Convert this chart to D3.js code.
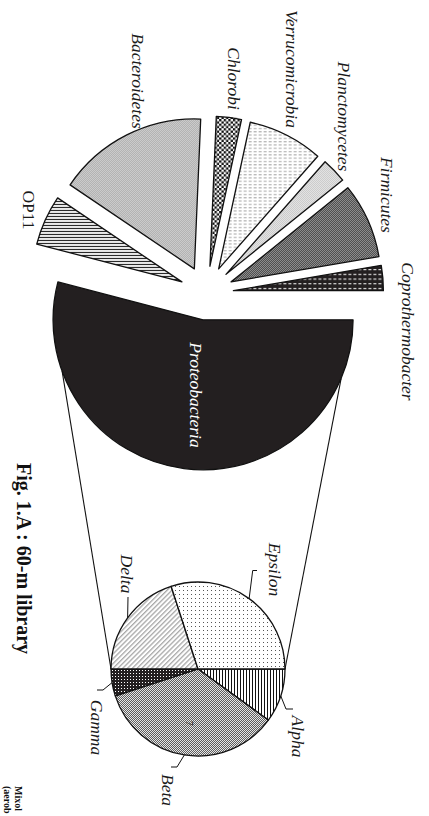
<!DOCTYPE html>
<html><head><meta charset="utf-8">
<script src="https://cdn.jsdelivr.net/npm/d3@7"></script>
<style>body{margin:0;background:#fff;overflow:hidden}svg{display:block}</style>
</head><body>
<svg id="chart" width="429" height="816"></svg>
<script>
// Clone counts per phylum, 60-m library (main pie)
const phyla = ["Proteobacteria","OP11","Bacteroidetes","Chlorobi","Verrucomicrobia","Planctomycetes","Firmicutes","Coprothermobacter"];
const phylaCounts = [20, 2, 6, 1, 3, 1, 3, 1];
// Proteobacteria split into classes (secondary pie)
const classes = ["Alpha","Beta","Gamma","Delta","Epsilon"];
const classCounts = [2, 7, 1, 4, 6];
const captionText = "Fig. 1.A : 60-m library";
const nextPanelTitle = ["Mixol", "(aerob"];

const svg = d3.select("#chart");
const defs = svg.append("defs");

// ---- fill patterns ----
function pattern(id, w, h, bg, draw, tf) {
  const p = defs.append("pattern").attr("id", id).attr("patternUnits", "userSpaceOnUse")
    .attr("width", w).attr("height", h);
  if (tf) p.attr("patternTransform", tf);
  p.append("rect").attr("width", w).attr("height", h).attr("fill", bg);
  draw(p);
}
const px = (p, x, y, w, h, c) => p.append("rect").attr("x", x).attr("y", y).attr("width", w).attr("height", h).attr("fill", c);

pattern("p-proteo", 4, 4, "#231f20", () => {});
pattern("p-op11", 3, 3, "#fff", p => px(p, 0, 0, 3, 1.1, "#111"));
pattern("p-bact", 2, 2, "#f2f2f2", p => { px(p, 0, 0, 1, 1, "#8c8c8c"); px(p, 1, 1, 1, 1, "#8c8c8c"); });
pattern("p-chlor", 4.6, 4.6, "#fff", p => { px(p, 0, 0, 2.3, 2.3, "#111"); px(p, 2.3, 2.3, 2.3, 2.3, "#111"); });
pattern("p-verr", 5, 3.3, "#fff", p => px(p, 0, 1, 3, 1, "#a6a6a6"));
pattern("p-planc", 2, 2, "#f6f6f6", p => { px(p, 0, 0, 1, 1, "#b8b8b8"); px(p, 1, 1, 1, 1, "#b8b8b8"); });
pattern("p-firm", 2, 2, "#a0a0a0", p => { px(p, 0, 0, 1, 1, "#3c3c3c"); px(p, 1, 1, 1, 1, "#3c3c3c"); });
pattern("p-copro", 5, 4.7, "#231f20", p => px(p, 0, 2, 3, 1, "#fff"));

pattern("p-alpha", 3, 3, "#fff", p => px(p, 0, 0, 1, 3, "#111"));
pattern("p-beta", 2, 2, "#e6e6e6", p => { px(p, 0, 0, 1, 1, "#5e5e5e"); px(p, 1, 1, 1, 1, "#5e5e5e"); });
pattern("p-gamma", 3, 3, "#231f20", p => px(p, 1, 1, 1, 1, "#fff"));
pattern("p-delta", 3.4, 3.4, "#fff", p => px(p, 0, 0, 1.3, 3.4, "#a8a8a8"), "rotate(45)");
pattern("p-eps", 4, 4, "#fff", p => px(p, 1, 1, 1, 1, "#555"));

const phylaFill = ["p-proteo","p-op11","p-bact","p-chlor","p-verr","p-planc","p-firm","p-copro"];
const classFill = ["p-alpha","p-beta","p-gamma","p-delta","p-eps"];

// ---- layout ----
const main = { cx: 206.5, cy: 293, r: 150, explode: 27 };
const sub = { cx: 198, cy: 669, r: 87 };
const start = Math.PI / 2;           // first slice begins pointing right
const pie = d3.pie().sort(null).startAngle(start).endAngle(start + 2 * Math.PI);
const deg = Math.PI / 180;
const polar = (cx, cy, r, a) => [cx + r * Math.sin(a), cy - r * Math.cos(a)];

const mainArcs = pie(phylaCounts);
const subArcs = pie(classCounts);
const arcMain = d3.arc().innerRadius(0).outerRadius(main.r);
const arcSub = d3.arc().innerRadius(0).outerRadius(sub.r);

const offset = d => {
  const m = (d.startAngle + d.endAngle) / 2;
  return [main.explode * Math.sin(m), -main.explode * Math.cos(m)];
};

// connector lines from the Proteobacteria slice to the class pie
const pro = mainArcs[0];
const [pox, poy] = offset(pro);
const pcx = main.cx + pox, pcy = main.cy + poy;
const conn = [
  [polar(pcx, pcy, main.r, 113 * deg), [sub.cx + sub.r, sub.cy]],
  [polar(pcx, pcy, main.r, 250 * deg), [sub.cx - sub.r, sub.cy]]
];
svg.append("g").selectAll("line").data(conn).join("line")
  .attr("x1", d => d[0][0]).attr("y1", d => d[0][1])
  .attr("x2", d => d[1][0]).attr("y2", d => d[1][1])
  .attr("stroke", "#111").attr("stroke-width", 1.1);

// main pie, every slice pulled out along its bisector
svg.append("g").selectAll("path").data(mainArcs).join("path")
  .attr("transform", d => { const [dx, dy] = offset(d); return `translate(${main.cx + dx},${main.cy + dy})`; })
  .attr("d", arcMain)
  .attr("fill", (d, i) => `url(#${phylaFill[i]})`)
  .attr("stroke", "#111").attr("stroke-width", 1.3).attr("stroke-linejoin", "round");

// class pie
const gSub = svg.append("g").attr("transform", `translate(${sub.cx},${sub.cy})`);
gSub.selectAll("path").data(subArcs).join("path")
  .attr("d", arcSub)
  .attr("fill", (d, i) => `url(#${classFill[i]})`)
  .attr("stroke", "#111").attr("stroke-width", 1.3).attr("stroke-linejoin", "round");

// ---- labels (text runs top-to-bottom) ----
const serif = "'Liberation Serif','Times New Roman',serif";
function vtext(x, y, str, opts = {}) {
  return svg.append("text")
    .attr("transform", `translate(${x},${y}) rotate(90)`)
    .attr("text-anchor", opts.anchor || "middle")
    .attr("font-family", serif)
    .attr("font-size", opts.size || 17.5)
    .attr("font-style", opts.italic === false ? "normal" : "italic")
    .attr("font-weight", opts.bold ? "bold" : "normal")
    .attr("fill", opts.fill || "#1a1a1a")
    .text(str);
}

// main pie labels: [baseline x, centre y]
const phylaLabelPos = [[190, 395], [23, 210], [132, 81], [228, 78.5], [286, 69], [338, 116.5], [381, 195], [402, 331.5]];
phyla.forEach((name, i) => {
  const [x, y] = phylaLabelPos[i];
  vtext(x, y, name, { italic: name !== "OP11", fill: i === 0 ? "#fff" : "#1a1a1a" });
});

// class labels with leader lines starting at each slice's arc midpoint
const classLabelPos = [[292, 736.5], [162, 790], [91, 727.5], [121, 574], [269, 569.5]];
const leaderBends = [
  [[286, 709], [293, 709]],
  [[177, 767], [171, 767]],
  [[103, 690], [97, 690]],
  [[128, 597], [128, 597]],
  [[252.7, 570.5], [257, 570.5]]
];
const lineGen = d3.line();
subArcs.forEach((d, i) => {
  const m = (d.startAngle + d.endAngle) / 2;
  const p0 = polar(sub.cx, sub.cy, sub.r, m);
  svg.append("path").attr("d", lineGen([p0, ...leaderBends[i]]))
    .attr("fill", "none").attr("stroke", "#111").attr("stroke-width", 1);
  const [x, y] = classLabelPos[i];
  vtext(x, y, classes[i]);
});

// value label inside the Beta slice
const beta = subArcs[1];
const [bx, by] = polar(sub.cx, sub.cy, 55, (beta.startAngle + beta.endAngle) / 2);
vtext(bx - 3, by, String(classCounts[1]), { size: 10, italic: false, fill: "#222" });

// caption
vtext(17, 463, captionText, { size: 20, italic: false, bold: true, anchor: "start", fill: "#111" });

// title of the neighbouring panel (only its start fits on this page)
vtext(15, 786, nextPanelTitle[0], { size: 10, italic: false, bold: true, anchor: "start", fill: "#111" });
vtext(4, 786, nextPanelTitle[1], { size: 10, italic: false, bold: true, anchor: "start", fill: "#111" });
</script>
</body></html>
